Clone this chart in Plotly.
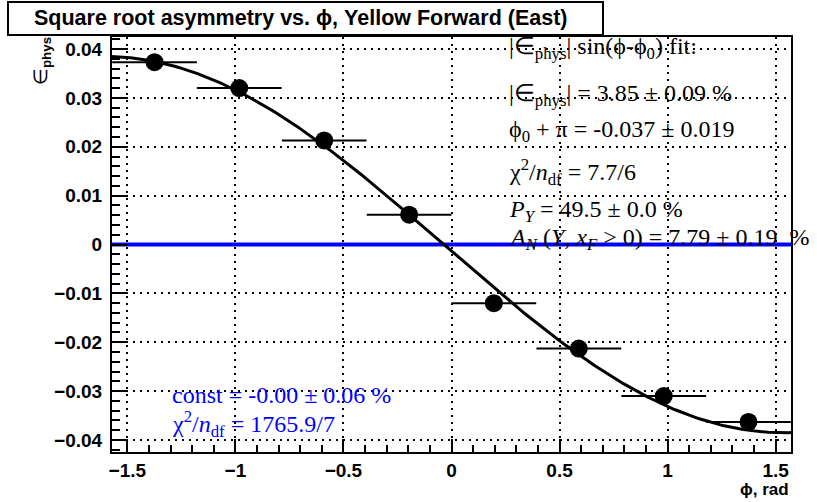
import numpy as np
import plotly.graph_objects as go

# ---------------- data ----------------
phi_centers = [-1.374, -0.982, -0.589, -0.196, 0.196, 0.589, 0.982, 1.374]
phi_halfwidths = [0.196, 0.196, 0.196, 0.196, 0.196, 0.196, 0.196, 0.196]
asym_values = [0.0373, 0.0320, 0.0213, 0.0061, -0.0120, -0.0213, -0.0310, -0.0363]

fit_amplitude = 0.0385          # |eps_phys| = 3.85 %
fit_phi0_plus_pi = -0.037       # phi0 + pi
const_fit_value = 0.0           # const = -0.00 %

x_tick_vals = [-1.5, -1.0, -0.5, 0.0, 0.5, 1.0, 1.5]
y_tick_vals = [-0.04, -0.03, -0.02, -0.01, 0.0, 0.01, 0.02, 0.03, 0.04]

title_text = "Square root asymmetry vs. \u03d5, Yellow Forward (East)"
fit_lines = [
    "|\u2208<sub>phys</sub>| sin(\u03d5-\u03d5<sub>0</sub>) fit:",
    "|\u2208<sub>phys</sub>| = 3.85 \u00b1 0.09 %",
    "\u03d5<sub>0</sub> + \u03c0 = -0.037 \u00b1 0.019",
    "\u03c7<sup>2</sup>/<i>n</i><sub>df</sub> = 7.7/6",
    "<i>P</i><sub><i>Y</i></sub> = 49.5 \u00b1 0.0 %",
    "<i>A</i><sub><i>N</i></sub> (<i>Y</i>, <i>x</i><sub><i>F</i></sub> > 0) = 7.79 \u00b1 0.19  %",
]
const_lines = [
    "const = -0.00 \u00b1 0.06 %",
    "\u03c7<sup>2</sup>/<i>n</i><sub>df</sub> = 1765.9/7",
]

# ---------------- geometry ----------------
W, H = 817, 502
ML, MR, MT, MB = 112, 26, 37, 50
PW, PH = W - ML - MR, H - MT - MB
x_range = [-np.pi / 2, np.pi / 2]
y_range = [-0.04245, 0.04245]


def px(xp):
    return (xp - ML) / PW


def py(yp):
    return (H - MB - yp) / PH


# fit curve from the stated fit parameters
phi0 = fit_phi0_plus_pi - np.pi
curve_x = np.linspace(x_range[0], x_range[1], 300)
curve_y = fit_amplitude * np.sin(curve_x - phi0)

fig = go.Figure()

fig.add_trace(go.Scatter(
    x=x_range, y=[const_fit_value, const_fit_value], mode="lines",
    line=dict(color="#0000ff", width=4), showlegend=False, hoverinfo="skip"))

fig.add_trace(go.Scatter(
    x=curve_x, y=curve_y, mode="lines",
    line=dict(color="black", width=3), showlegend=False, hoverinfo="skip"))

fig.add_trace(go.Scatter(
    x=phi_centers, y=asym_values, mode="markers",
    marker=dict(color="black", size=18, line=dict(width=0)),
    error_x=dict(type="data", array=phi_halfwidths, color="black",
                 thickness=2, width=0),
    showlegend=False, cliponaxis=False))

tick_font = dict(family="Liberation Sans, Arial", size=19, color="black", weight="bold")
grid_dash = "2px,5px"

fig.update_xaxes(
    range=x_range, showline=True, linewidth=2, linecolor="black", mirror=True,
    ticks="inside", ticklen=13, tickwidth=1.5, tickcolor="black",
    tickvals=x_tick_vals, tickfont=tick_font,
    showgrid=True, gridcolor="black", gridwidth=1.5, griddash=grid_dash,
    zeroline=False,
    minor=dict(ticks="inside", ticklen=7, tickwidth=1.5, tickcolor="black",
               dtick=0.1, tick0=0, showgrid=False),
)
fig.update_yaxes(
    range=y_range, showline=True, linewidth=2, linecolor="black", mirror=True,
    ticks="inside", ticklen=15, tickwidth=1.5, tickcolor="black",
    tickvals=y_tick_vals, tickfont=tick_font, ticklabelstandoff=4,
    showgrid=True, gridcolor="black", gridwidth=1.5, griddash=grid_dash,
    zeroline=False,
    minor=dict(ticks="inside", ticklen=8, tickwidth=1.5, tickcolor="black",
               dtick=0.002, tick0=0, showgrid=False),
)

annotations = []

# title box
shapes = [dict(type="rect", xref="paper", yref="paper",
               x0=px(8), x1=px(603), y0=py(35), y1=py(2),
               line=dict(color="black", width=2), fillcolor="white", layer="above")]
annotations.append(dict(
    text=title_text, xref="paper", yref="paper", x=px(300), y=py(18),
    xanchor="center", yanchor="middle", showarrow=False,
    font=dict(family="Liberation Sans, Arial", size=21.5, color="black", weight="bold")))

# axis titles
annotations.append(dict(
    text="\u2208<sub><b>phys</b></sub>", xref="paper", yref="paper",
    x=px(42), y=py(35), xanchor="center", yanchor="top", textangle=-90,
    showarrow=False, font=dict(family="Liberation Sans, Arial", size=19, color="black")))
annotations.append(dict(
    text="\u03d5, rad", xref="paper", yref="paper", x=px(791), y=py(489),
    xanchor="right", yanchor="middle", showarrow=False,
    font=dict(family="Liberation Sans, Arial", size=17, color="black", weight="bold")))

# fit text
fit_line_y = [48, 95, 131, 172, 211, 239]
for t, yy in zip(fit_lines, fit_line_y):
    annotations.append(dict(
        text=t, xref="paper", yref="paper", x=px(507), y=py(yy),
        xanchor="left", yanchor="middle", showarrow=False,
        font=dict(family="Liberation Serif, Times New Roman", size=24, color="black")))

const_line_y = [395, 424]
for t, yy in zip(const_lines, const_line_y):
    annotations.append(dict(
        text=t, xref="paper", yref="paper", x=px(170), y=py(yy),
        xanchor="left", yanchor="middle", showarrow=False,
        font=dict(family="Liberation Serif, Times New Roman", size=24, color="#0000ff")))

fig.update_layout(
    width=W, height=H,
    margin=dict(l=ML, r=MR, t=MT, b=MB, pad=0),
    paper_bgcolor="white", plot_bgcolor="white",
    shapes=shapes, annotations=annotations,
    showlegend=False,
)

fig.write_html("out.html", config={"displayModeBar": False},
               post_script="document.body.style.margin='0px';document.body.style.padding='0px';")
